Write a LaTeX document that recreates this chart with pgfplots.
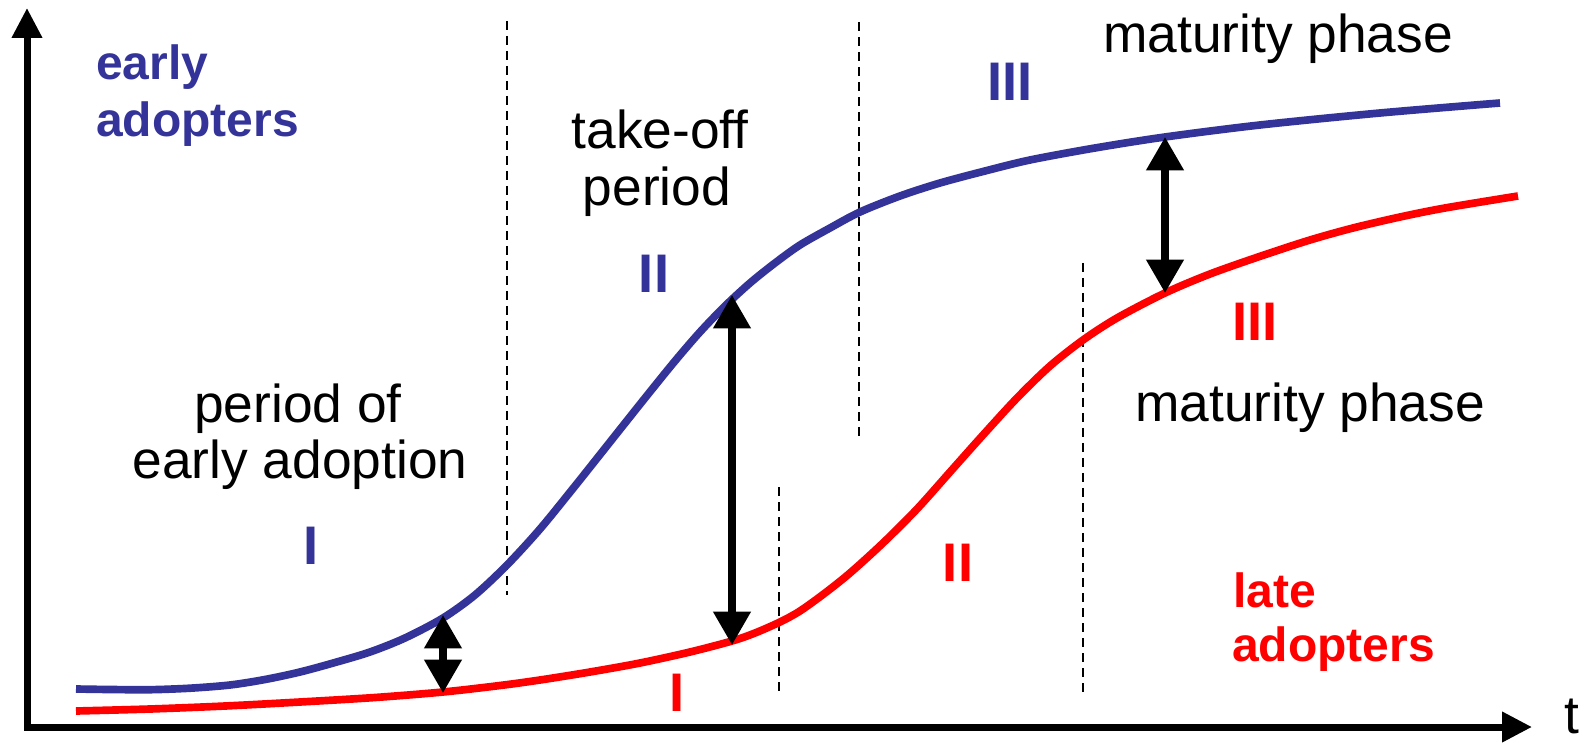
\documentclass[border=0pt]{standalone}
\usepackage{pgfplots}
\pgfplotsset{compat=1.18}
\usepackage{fontspec}
\setmainfont{Liberation Sans}
\usetikzlibrary{arrows.meta}

\definecolor{adoptblue}{RGB}{51,51,153}
\definecolor{adoptred}{RGB}{255,0,0}

% curves, x in px, y in px from the bottom
\pgfplotstableread{
x y
76 53
110 52.5
150 52.3
190 53.8
230 57
265 62.5
300 70
335 79.5
370 90
405 104
443 124
475 147
507 177
540 213
575 256
610 300
645 344
675 381
700 410
725 436
750 459
775 479
800 497
830 514
860 530
900 546
940 559
985 571
1030 582
1095 594
1165 605
1260 617
1380 629
1500 639
}\earlydata

\pgfplotstableread{
x y
76 31
150 33
225 36
300 40
375 44.5
443 50
500 56.5
540 62
590 70
640 79
690 90
732 101
755 109
780 120
800 131
825 149
850 169
883 199
917 233
950 270
983 307
1017 344
1050 376
1083 402
1117 424
1165 449
1210 468
1261 486
1310 502
1353 514
1400 525
1445 534
1518 546
}\latedata

\newcommand{\txt}{\fontsize{16}{18}\selectfont}
\newcommand{\lbl}{\fontsize{14.4}{17}\selectfont\bfseries}
\newcommand{\num}{\fontsize{16.3}{19}\selectfont\bfseries}

\tikzset{
  tri/.tip={Triangle[width=10.8pt,length=10pt]},
  dbl/.style={line width=2.2pt, black, tri-tri},
  phase/.style={black, line width=0.5pt, dash pattern=on 2.7pt off 1.8pt},
  lab/.style={inner sep=0pt, outer sep=0pt},
}

\begin{document}
\begin{tikzpicture}[every node/.append style={inner sep=0pt}]
\begin{axis}[
  x=0.3pt, y=0.3pt,
  xmin=0, xmax=1586, ymin=0, ymax=742,
  hide axis, clip=false,
]
% axes
\addplot[black, line width=2.1pt, line join=miter,
  {Triangle[width=8.7pt,length=9pt]}-{Triangle[width=8.7pt,length=9pt]}]
  coordinates {(27,734) (27,15) (1532,15)};

% phase boundaries
\addplot[phase] coordinates {(507,721) (507,147)};
\addplot[phase] coordinates {(859,720) (859,304)};
\addplot[phase] coordinates {(779,255) (779,47)};
\addplot[phase] coordinates {(1083,479) (1083,47)};

% curves
\addplot[adoptblue, line width=2.3pt, smooth] table {\earlydata};
\addplot[adoptred, line width=2.3pt, smooth] table {\latedata};

% gaps between the curves
\addplot[dbl] coordinates {(443,127) (443,49)};
\addplot[dbl] coordinates {(732,447) (732,97)};
\addplot[dbl] coordinates {(1165,605) (1165,449)};

% labels
\node[lab, anchor=base west, text=adoptblue] at (axis cs:96,662) {\lbl early};
\node[lab, anchor=base west, text=adoptblue] at (axis cs:96,605) {\lbl adopters};
\node[lab, anchor=base west, text=adoptred] at (axis cs:1233,135) {\lbl late};
\node[lab, anchor=base west, text=adoptred] at (axis cs:1232,81) {\lbl adopters};

\node[lab, anchor=base] at (axis cs:660,593) {\txt take-off};
\node[lab, anchor=base] at (axis cs:657,536) {\txt period};
\node[lab, anchor=base] at (axis cs:298,319) {\txt period of};
\node[lab, anchor=base] at (axis cs:300,264) {\txt early adoption};
\node[lab, anchor=base] at (axis cs:1278,689) {\txt maturity phase};
\node[lab, anchor=base] at (axis cs:1310,320) {\txt maturity phase};
\node[lab, anchor=base west] at (axis cs:1564,9) {\txt t};

\node[lab, anchor=base, text=adoptblue] at (axis cs:311,178) {\num I};
\node[lab, anchor=base, text=adoptblue] at (axis cs:654,449) {\num II};
\node[lab, anchor=base, text=adoptblue] at (axis cs:1010,641) {\num III};
\node[lab, anchor=base, text=adoptred] at (axis cs:677,31) {\num I};
\node[lab, anchor=base, text=adoptred] at (axis cs:958,161) {\num II};
\node[lab, anchor=base, text=adoptred] at (axis cs:1255,401) {\num III};
\end{axis}
\pgfresetboundingbox
\path (current axis.south west) rectangle (current axis.north east);
\end{tikzpicture}
\end{document}
